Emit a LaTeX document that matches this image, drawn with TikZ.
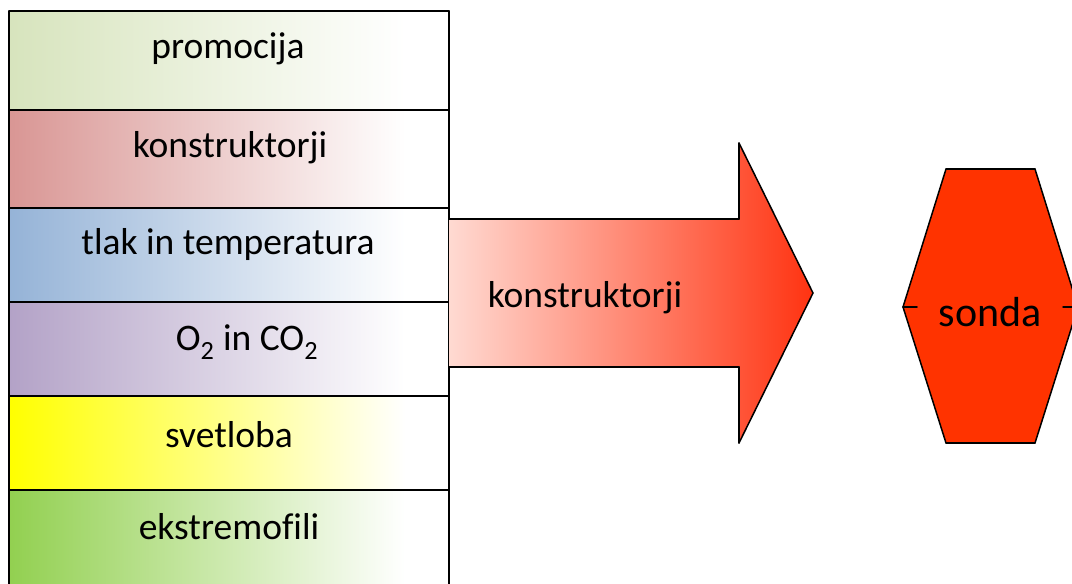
\documentclass[tikz,border=0pt]{standalone}
\usepackage{fontspec}
\setmainfont[Ligatures=NoCommon]{Carlito}
\usepackage{tikz}
\usepackage{tkz-euclide}
\usetikzlibrary{calc}
\usetikzlibrary{arrows.meta}

\definecolor{promo}{RGB}{215,228,189}
\definecolor{konstr}{RGB}{217,150,148}
\definecolor{tlak}{RGB}{149,179,215}
\definecolor{plini}{RGB}{179,162,199}
\definecolor{svet}{RGB}{255,255,0}
\definecolor{ekstr}{RGB}{146,208,80}
\definecolor{arrowlight}{RGB}{255,218,210}
\definecolor{arrowdark}{RGB}{255,51,17}
\definecolor{sondared}{RGB}{255,51,0}
\colorlet{rowcol}{promo}

% prehod v belo ze pred desnim robom
\pgfdeclarehorizontalshading[rowcol]{rowfade}{100bp}{%
  color(0bp)=(rowcol); color(25bp)=(rowcol);
  color(70bp)=(white); color(100bp)=(white)}

\begin{document}
\begin{tikzpicture}[%
  x=1pt, y=-1pt,
  edge/.style={line width=1.5pt},
  rowtext/.style={font=\fontsize{37.5}{44}\selectfont, inner sep=0pt},
  sondatext/.style={font=\fontsize{42}{50}\selectfont, inner sep=0pt}
]

  \clip (0,0) rectangle (1072,584);

  % levi stolpec
  \tkzDefPoint(9,11){L0}   \tkzDefPoint(449,11){R0}
  \tkzDefPoint(9,110){L1}  \tkzDefPoint(449,110){R1}
  \tkzDefPoint(9,208){L2}  \tkzDefPoint(449,208){R2}
  \tkzDefPoint(9,302){L3}  \tkzDefPoint(449,302){R3}
  \tkzDefPoint(9,396){L4}  \tkzDefPoint(449,396){R4}
  \tkzDefPoint(9,490){L5}  \tkzDefPoint(449,490){R5}
  \tkzDefPoint(9,600){L6}  \tkzDefPoint(449,600){R6}

  \colorlet{rowcol}{promo}
  \tkzFillPolygon[shading=rowfade](L0,R0,R1,L1)
  \colorlet{rowcol}{konstr}
  \tkzFillPolygon[shading=rowfade](L1,R1,R2,L2)
  \colorlet{rowcol}{tlak}
  \tkzFillPolygon[shading=rowfade](L2,R2,R3,L3)
  \colorlet{rowcol}{plini}
  \tkzFillPolygon[shading=rowfade](L3,R3,R4,L4)
  \colorlet{rowcol}{svet}
  \tkzFillPolygon[shading=rowfade](L4,R4,R5,L5)
  \colorlet{rowcol}{ekstr}
  \tkzFillPolygon[shading=rowfade](L5,R5,R6,L6)

  \tkzDrawSegments[edge](L0,R0 L1,R1 L2,R2 L3,R3 L4,R4 L5,R5)
  \tkzDrawSegments[edge](L0,L6 R0,R6)

  % puscica
  \tkzDefPoint(449,219){A}
  \tkzDefPoint(739,219){B}
  \tkzDefPoint(739,143){C}
  \tkzDefPoint(813,293){D}
  \tkzDefPoint(739,443){E}
  \tkzDefPoint(739,367){F}
  \tkzDefPoint(449,367){G}

  \tkzFillPolygon[left color=arrowlight,right color=arrowdark](A,B,C,D,E,F,G)
  \tkzDrawSegments[edge](A,B B,C C,D D,E E,F F,G)

  % sonda
  \tkzDefPoint(946,169){H1}
  \tkzDefPoint(1035,169){H2}
  \tkzDefPoint(1078,307){H3}
  \tkzDefPoint(1035,443){H4}
  \tkzDefPoint(946,443){H5}
  \tkzDefPoint(903,307){H6}
  \tkzDefPoint(917,307){T1}
  \tkzDefPoint(1063,307){T2}

  \tkzFillPolygon[color=sondared](H1,H2,H3,H4,H5,H6)
  \tkzDrawSegments[edge](H1,H2 H2,H3 H3,H4 H4,H5 H5,H6 H6,H1)
  \tkzDrawSegments[edge](H6,T1 T2,H3)

  \node[rowtext] (promocija) at (228,49) {promocija};
  \node[rowtext] (konstruktorji) at (230,148) {konstruktorji};
  \node[rowtext] (tlak) at (228,244) {tlak in temperatura};
  \node[rowtext] (plini) at (247,342) {O\textsubscript{2} in CO\textsubscript{2}};
  \node[rowtext] (svetloba) at (229,435) {svetloba};
  \node[rowtext] (ekstremofili) at (229,527) {ekstremofili};
  \node[rowtext] (pot) at (585,298) {konstruktorji};
  \node[sondatext] (sonda) at (990,312) {sonda};

\end{tikzpicture}
\end{document}
